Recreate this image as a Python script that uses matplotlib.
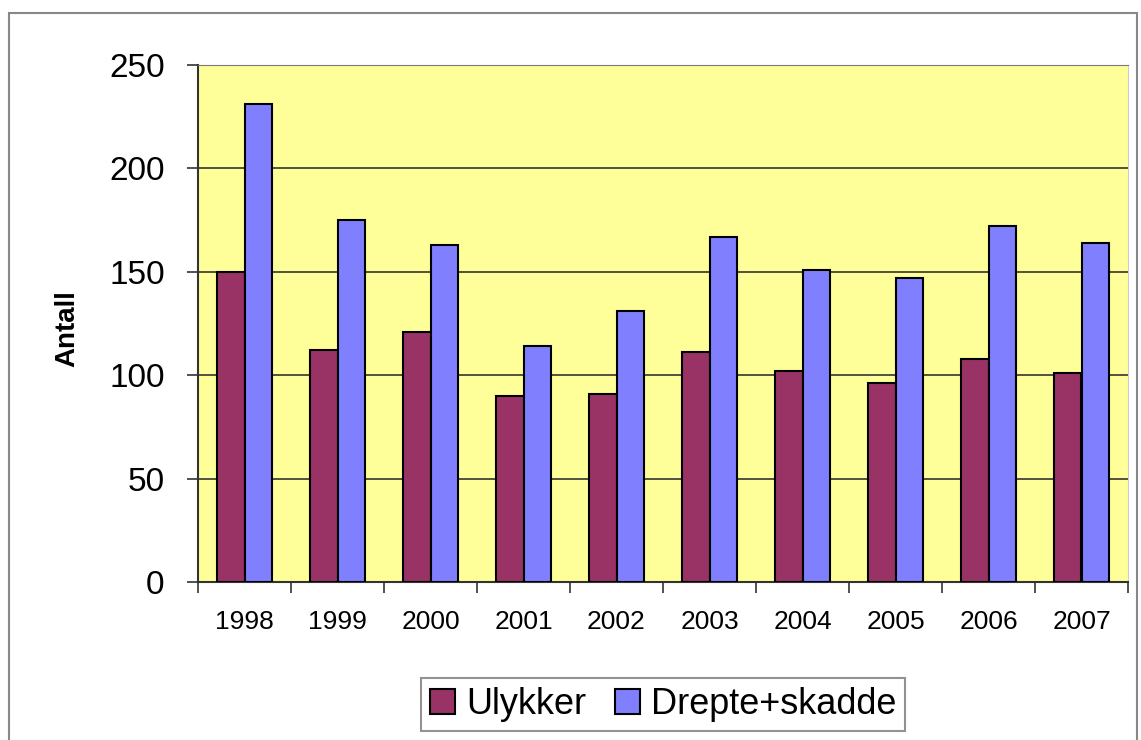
import numpy as np
import matplotlib.pyplot as plt
from matplotlib.patches import Rectangle

# data
years = ['1998', '1999', '2000', '2001', '2002', '2003', '2004', '2005', '2006', '2007']
ulykker = [150, 112, 121, 90, 91, 111, 102, 96, 108, 101]
drepte_skadde = [231, 175, 163, 114, 131, 167, 151, 147, 172, 164]

plt.rcParams['font.family'] = ['Liberation Sans', 'DejaVu Sans']

fig = plt.figure(figsize=(11.41, 7.40), dpi=100)
ax = fig.add_axes([198/1141, 1-582/740, 930/1141, 517/740])
ax.set_facecolor('#FFFF99')

# outer frame round the whole chart
fig.patches.append(Rectangle((9/1141, -0.02), 1128/1141, 1.02-13/740,
                             transform=fig.transFigure, fill=False,
                             edgecolor='#888888', lw=1.5))

x = np.arange(len(years))
w = 0.295
ax.bar(x - w/2, ulykker, w, color='#993366', edgecolor='black', lw=1.5,
       label='Ulykker', zorder=3)
ax.bar(x + w/2, drepte_skadde, w, color='#8080FF', edgecolor='black', lw=1.5,
       label='Drepte+skadde', zorder=3)

ax.set_xlim(-0.5, len(years) - 0.5)
ax.set_ylim(0, 250)
ax.set_yticks(range(0, 251, 50))
ax.tick_params(axis='y', labelsize=24, length=8, width=1.2, pad=16, color='#333333')
ax.yaxis.grid(True, color='#333333', lw=1.2, zorder=1)

# ticks at category boundaries, labels at centres
ax.set_xticks(np.arange(-0.5, len(years), 1))
ax.set_xticklabels([])
ax.set_xticks(x, minor=True)
ax.set_xticklabels(years, minor=True)
ax.tick_params(axis='x', which='major', length=8, width=1.2, color='#333333')
ax.tick_params(axis='x', which='minor', length=0, labelsize=19, pad=20)

for s in ['left', 'bottom']:
    ax.spines[s].set_color('#333333')
    ax.spines[s].set_linewidth(1.5)
ax.spines['top'].set_color('#777777')
ax.spines['right'].set_color('#cccccc')

ax.set_ylabel('Antall', fontsize=20, fontweight='bold', va='center')
ax.yaxis.set_label_coords(-0.141, 0.49)

leg = ax.legend(loc='center', bbox_to_anchor=(0.5, -0.237), ncol=2,
                fontsize=26, frameon=True, fancybox=False, edgecolor='#777777',
                handlelength=0.7, handleheight=0.7, handletextpad=0.3,
                columnspacing=0.8, borderpad=0.25, borderaxespad=0)
leg.get_frame().set_linewidth(1.5)

plt.savefig('out.png', dpi=100)
